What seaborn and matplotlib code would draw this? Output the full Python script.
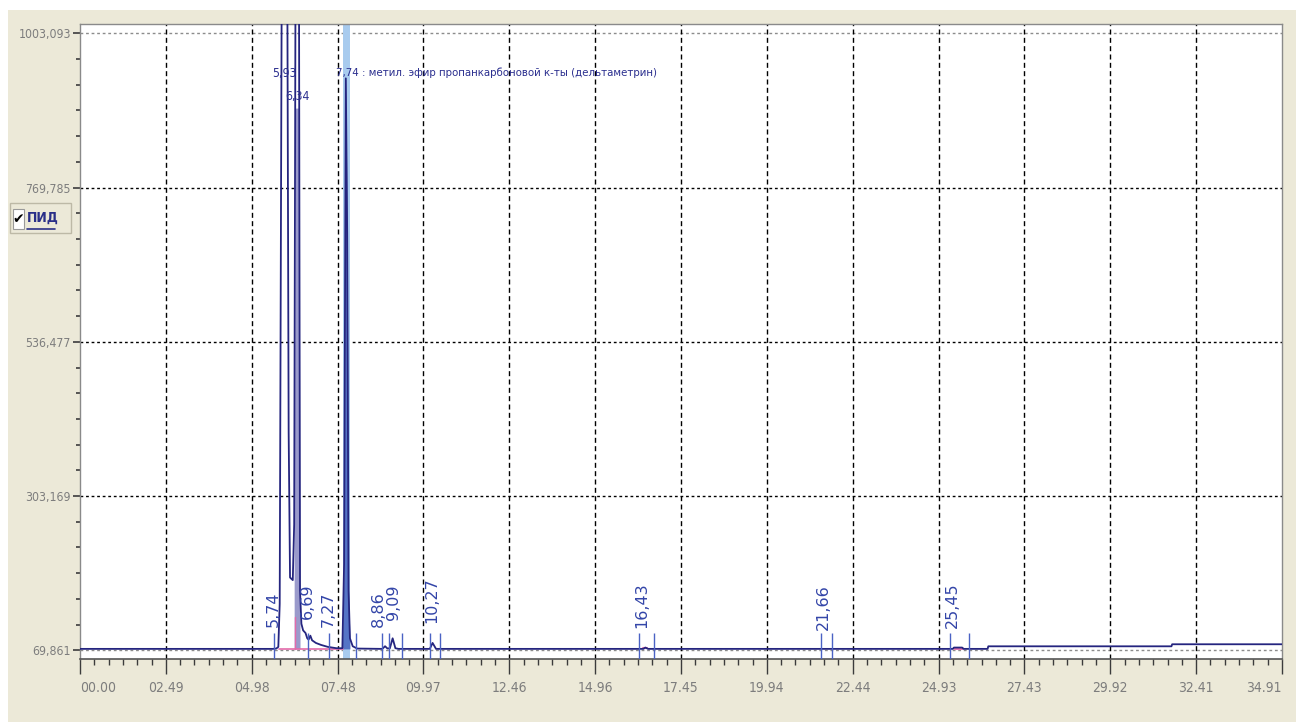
import numpy as np
import pandas as pd
import matplotlib.pyplot as plt
import seaborn as sns
from matplotlib import font_manager as fm
from matplotlib.font_manager import FontProperties
from matplotlib.patches import Rectangle
from matplotlib.lines import Line2D

# chromatogram trace (time, min / signal)
trace_t = [0.00, 5.60, 5.70, 5.76, 5.80, 5.86, 6.02, 6.06, 6.10, 6.18, 6.22, 6.26,
           6.36, 6.39, 6.43, 6.48, 6.55, 6.60, 6.64, 6.69, 6.74, 6.85, 7.00, 7.20,
           7.45, 7.62, 7.67, 7.72, 7.76, 7.80, 7.84, 7.92, 8.05, 8.78, 8.86, 8.93,
           9.00, 9.08, 9.16, 9.25, 10.16, 10.24, 10.34, 16.36, 16.42, 16.50, 25.35,
           25.38, 25.62, 25.66, 26.36, 26.38, 31.70, 31.72, 34.91]
trace_v = [72, 72, 72.5, 75, 140, 1100, 1100, 400, 180, 176, 260, 1100,
           1100, 160, 110, 100, 96, 88, 86, 92, 85, 81, 78, 75,
           73, 73, 200, 935, 700, 160, 88, 76, 72.5, 72, 76, 72.5,
           73, 88, 73, 72, 72, 81, 72, 72, 74, 72, 72,
           74, 74, 72, 72, 75.9, 75.9, 79, 79]

# integration boundaries
marker_t = [5.63, 6.62, 7.23, 8.02, 8.77, 8.97, 9.35, 10.17, 10.46,
            16.24, 16.67, 21.52, 21.84, 25.27, 25.82]

# small peaks, labels drawn vertically
small_names = ["5,74", "6,69", "7,27", "8,86", "9,09", "10,27", "16,43", "21,66", "25,45"]
small_pos = [5.61, 6.59, 7.20, 8.67, 9.11, 10.22, 16.32, 21.60, 25.35]
small_lift = [105, 117, 105, 105, 116, 111, 104, 101, 104]

# big peaks, labels drawn horizontally
big_names = ["5,93", "6,34"]
big_t = [5.93, 6.32]
big_y = [943, 907]
main_t = 7.74
main_label = "7,74 : метил. эфир пропанкарбоновой к-ты (дельтаметрин)"

y_major = [69.861, 303.169, 536.477, 769.785, 1003.093]
y_labels = ["69,861", "303,169", "536,477", "769,785", "1003,093"]
x_labels = ["00.00", "02.49", "04.98", "07.48", "09.97", "12.46", "14.96", "17.45",
            "19.94", "22.44", "24.93", "27.43", "29.92", "32.41", "34.91"]
x_end = 34.91

sns.set_theme(style="white")
plt.rcParams['font.family'] = ['Liberation Sans', 'DejaVu Sans']


# look for a narrow sans face (the original uses a condensed UI font)
def find_narrow(bold=False):
    best = None
    for f in fm.fontManager.ttflist:
        n = f.name.lower()
        narrow = 'narrow' in n or 'condensed' in n or f.stretch in ('condensed', 'semi-condensed')
        w = str(f.weight).lower()
        is_bold = w in ('700', 'bold')
        if not narrow or f.style != 'normal' or is_bold != bold:
            continue
        if not bold and w not in ('400', 'normal', 'regular', 'book'):
            continue
        rank = 0 if 'liberation' in n else 1 if 'dejavu' in n else 2
        if best is None or rank < best[0]:
            best = (rank, f.fname)
    return best[1] if best else None


narrow_reg = find_narrow()
narrow_bold = find_narrow(bold=True)


def nfp(size, bold=False):
    path = narrow_bold if bold else narrow_reg
    if path:
        return FontProperties(fname=path, size=size)
    return FontProperties(family='Liberation Sans', size=size * 0.9,
                          weight='bold' if bold else 'normal')


W, H = 1296, 722
fig = plt.figure(figsize=(W / 100, H / 100), dpi=100)
fig.patch.set_facecolor('white')
fig.add_artist(Rectangle((8 / W, 0), 1 - 8 / W, 1 - 10 / H, transform=fig.transFigure,
                         facecolor='#ECE9D8', edgecolor='none', zorder=-5))

ax = fig.add_axes([80 / W, 1 - 659 / H, (1282 - 80) / W, (659 - 24) / H])
ax.set_facecolor('white')
ax.set_xlim(0, x_end)
ax.set_ylim(56.7, 1017.2)

df = pd.DataFrame({'t': trace_t, 'v': trace_v})
t = df['t'].to_numpy()
v = df['v'].to_numpy()

# grid
for yv in y_major[1:-1]:
    ax.axhline(yv, color='black', lw=1.0, ls=(0, (2, 2)), zorder=1)
for yv in (y_major[0], y_major[-1]):
    ax.axhline(yv, color='#8c8c8c', lw=1.0, ls=(0, (2, 2)), zorder=1)
x_step = x_end / (len(x_labels) - 1)
x_major = [i * x_step for i in range(len(x_labels))]
for xv in x_major[1:-1]:
    ax.axvline(xv, color='black', lw=1.0, ls=(0, (3.6, 2.4)), zorder=1)

# highlighted main peak
ax.axvspan(7.63, 7.83, color='#A8CBEE', lw=0, zorder=2)
m3 = (t >= 7.62) & (t <= 7.84)
ax.fill_between(t, 72, v, where=m3, color='#5574C6', lw=0, zorder=3)
m2 = (t >= 6.22) & (t <= 6.39)
ax.fill_between(t, 72, np.minimum(v, 890), where=m2, color='#9A9ACB', lw=0, zorder=3)

# integration baselines
ax.plot([5.78, 7.63], [72, 72], color='#E36BAA', lw=1.2, zorder=4)
ax.plot([6.24, 6.24], [72, 120], color='#E36BAA', lw=1.0, zorder=4)
ax.plot([16.36, 16.47], [73, 73], color='#E36BAA', lw=1.5, zorder=4)
ax.plot([25.38, 25.62], [73, 73], color='#E36BAA', lw=2.0, zorder=4)

sns.lineplot(data=df, x='t', y='v', ax=ax, color='#25257F', lw=1.3,
             estimator=None, sort=False, zorder=5)

ax.vlines(marker_t, 56.7, 96, color='#4A62C4', lw=1.0, zorder=6)

for name, pos, lift in zip(small_names, small_pos, small_lift):
    ax.text(pos, lift, name, rotation=90, ha='center', va='bottom', fontsize=11.5,
            color='#3345A8', family=['DejaVu Sans'], zorder=7)
for name, pos, yy in zip(big_names, big_t, big_y):
    ax.text(pos, yy, name, ha='center', va='center', fontproperties=nfp(8.8),
            color='#2B2F8F', zorder=7)
ax.annotate(main_label, xy=(main_t, 943), xytext=(-10, 0), textcoords='offset pixels',
            ha='left', va='center', fontproperties=nfp(8.2), color='#2B2F8F', zorder=7)

# axes, ticks
ax.set_xlabel('')
ax.set_ylabel('')
ax.set_xticks(x_major)
ax.set_xticklabels(x_labels)
ax.set_xticks(np.arange(0, x_end + 1e-6, x_step / 6), minor=True)
ax.set_yticks(y_major)
ax.set_yticklabels(y_labels)
y_step = y_major[1] - y_major[0]
ax.set_yticks(np.arange(y_major[0], 1017, y_step / 6), minor=True)
ax.tick_params(axis='x', which='major', length=11, width=1, color='#3c3c3c',
               direction='out', pad=5, labelcolor='#7d7d7d', bottom=True)
ax.tick_params(axis='x', which='minor', length=4.5, width=1, color='#3c3c3c',
               direction='out', bottom=True)
ax.tick_params(axis='y', which='major', length=5, width=1.2, color='#3c3c3c',
               direction='out', pad=1.5, labelcolor='#7d7d7d', left=True)
ax.tick_params(axis='y', which='minor', length=3, width=1.2, color='#3c3c3c',
               direction='out', left=True)
for lab in ax.get_xticklabels():
    lab.set_fontproperties(nfp(10))
for lab in ax.get_yticklabels():
    lab.set_fontproperties(nfp(8.8))
xl = ax.get_xticklabels()
xl[0].set_horizontalalignment('left')
xl[-1].set_horizontalalignment('right')
for side in ['top', 'right', 'left']:
    ax.spines[side].set_color('#8a8a8a')
    ax.spines[side].set_linewidth(1.0)
ax.spines['bottom'].set_color('#555555')
ax.spines['bottom'].set_linewidth(1.2)
ax.grid(False)

# "ПИД" channel box
fig.add_artist(Rectangle((10 / W, 1 - 233 / H), 61 / W, 30 / H, transform=fig.transFigure,
                         facecolor='#ECE9D8', edgecolor='#bdb9a6', lw=1.0, zorder=10))
fig.add_artist(Rectangle((13 / W, 1 - 229 / H), 11 / W, 20 / H, transform=fig.transFigure,
                         facecolor='white', edgecolor='#9a9a9a', lw=0.8, zorder=11))
fig.text(18.5 / W, 1 - 219 / H, "✔", fontsize=10, color='black', ha='center', va='center',
         family=['DejaVu Sans'], zorder=12)
fig.text(27 / W, 1 - 218 / H, "ПИД", fontproperties=nfp(10, bold=True), color='#2A2F88',
         ha='left', va='center', zorder=12)
fig.add_artist(Line2D([27 / W, 55 / W], [1 - 229 / H, 1 - 229 / H], transform=fig.transFigure,
                      color='#2A2F88', lw=1.2, zorder=12))

fig.savefig('out.png', dpi=100)
